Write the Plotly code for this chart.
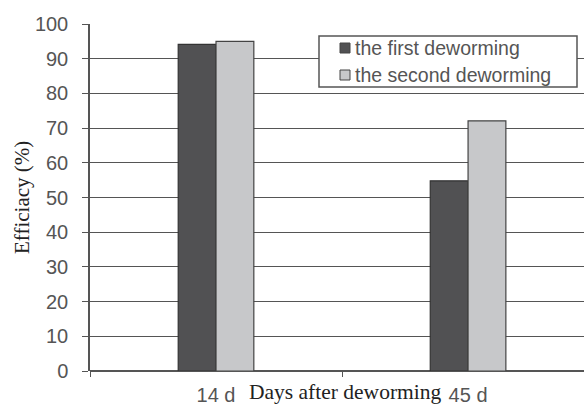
import plotly.graph_objects as go

categories = ["14 d", "45 d"]
first_deworming = [94.1, 54.8]
second_deworming = [95.0, 72.1]
series_names = ["the first deworming", "the second deworming"]
series_colors = ["#515153", "#c7c8ca"]
y_ticks = [0, 10, 20, 30, 40, 50, 60, 70, 80, 90, 100]

W, H = 584, 405
L, R, T, B = 90, 0, 24, 34
PW, PH = W - L - R, H - T - B


def px(x):
    return (x - L) / PW


def py(y):
    return (H - B - y) / PH


fig = go.Figure()
fig.add_trace(go.Bar(name=series_names[0], x=categories, y=first_deworming,
                     marker=dict(color=series_colors[0], line=dict(color="#333333", width=1.2))))
fig.add_trace(go.Bar(name=series_names[1], x=categories, y=second_deworming,
                     marker=dict(color=series_colors[1], line=dict(color="#444444", width=1.2))))

fig.update_layout(
    width=W, height=H,
    margin=dict(l=L, r=R, t=T, b=B),
    paper_bgcolor="white", plot_bgcolor="white",
    barmode="group", bargap=0.7, bargroupgap=0,
    font=dict(family="Liberation Sans, Arial", size=20, color="#555555"),
    showlegend=False,
)
fig.update_xaxes(range=[-0.5, 1.46], showgrid=False, showline=False,
                 ticks="outside", tickson="boundaries", ticklen=5, tickcolor="#555555",
                 ticklabelstandoff=10,
                 tickfont=dict(size=20, color="#555555"), zeroline=False)
fig.update_yaxes(range=[0, 100], tickvals=y_ticks, showgrid=True, gridcolor="#555555", gridwidth=1.4,
                 showline=True, linecolor="#555555", linewidth=1.5,
                 ticks="outside", ticklen=6, tickcolor="#555555", ticklabelstandoff=10,
                 tickfont=dict(size=20, color="#555555"), zeroline=True, zerolinecolor="#555555",
                 zerolinewidth=1.5)

# legend box (drawn as shapes + text so its compact spacing matches)
fig.add_shape(type="rect", xref="paper", yref="paper", layer="above",
              x0=px(319), x1=px(577), y0=py(87), y1=py(36),
              fillcolor="white", line=dict(color="#555555", width=1.5))
row_y = [48, 75]
for name, color, yy in zip(series_names, series_colors, row_y):
    fig.add_shape(type="rect", xref="paper", yref="paper", layer="above",
                  x0=px(340), x1=px(350), y0=py(yy + 5), y1=py(yy - 5),
                  fillcolor=color, line=dict(color="#444444", width=1))
    fig.add_annotation(text=name, xref="paper", yref="paper", x=px(353), y=py(yy),
                       xanchor="left", yanchor="middle", showarrow=False,
                       font=dict(family="Liberation Sans, Arial", size=19.5, color="#555555"))

fig.add_annotation(text="Days after deworming", xref="paper", yref="paper",
                   x=px(345), y=py(392), xanchor="center", yanchor="middle",
                   showarrow=False, font=dict(family="Liberation Serif, Times New Roman", size=21.5, color="#222222"))
fig.add_annotation(text="Efficiacy (%)", xref="paper", yref="paper",
                   x=px(22), y=py(198), xanchor="center", yanchor="middle",
                   textangle=-90, showarrow=False,
                   font=dict(family="Liberation Serif, Times New Roman", size=21, color="#222222"))

fig.write_html("out.html", config={"displayModeBar": False},
               post_script="document.body.style.margin='0';")
